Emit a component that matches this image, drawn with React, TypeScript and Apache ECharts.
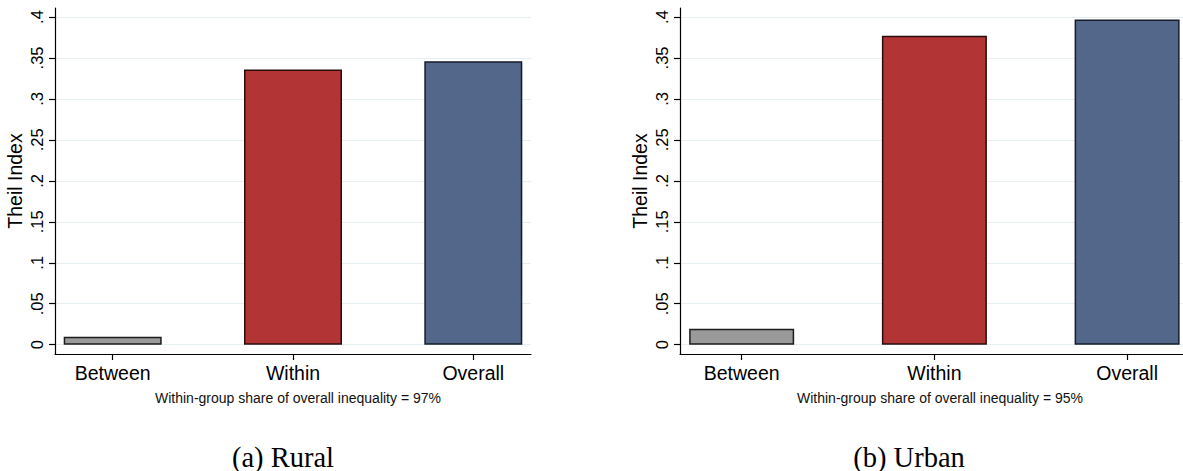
import React, { useEffect, useRef } from "react";
import * as echarts from "echarts";

// Theil decomposition, rural and urban panels
const categories = ["Between", "Within", "Overall"];
const ruralValues = [0.0098, 0.336, 0.346];
const urbanValues = [0.0195, 0.377, 0.397];
const barColors = ["#9a9a9a", "#b23434", "#52678a"];
const barBorders = ["#1c1c1c", "#2a0c0c", "#141c2a"];
const yTickValues = [0, 0.05, 0.1, 0.15, 0.2, 0.25, 0.3, 0.35, 0.4];
const yTickLabels = ["0", ".05", ".1", ".15", ".2", ".25", ".3", ".35", ".4"];
const ruralNote = "Within-group share of overall inequality = 97%";
const urbanNote = "Within-group share of overall inequality = 95%";
const ruralCaption = "(a) Rural";
const urbanCaption = "(b) Urban";
const yTitle = "Theil Index";

const SANS = "'Liberation Sans', Arial, Helvetica, sans-serif";
const SERIF = "'Liberation Serif', 'Times New Roman', serif";
const catPositions = categories.map((_, i) => i);

function makeXAxis(gridIndex: number, max: number) {
  return {
    type: "value",
    gridIndex,
    min: -0.32,
    max,
    axisLine: { show: true, onZero: false, lineStyle: { color: "#000", width: 1.2 } },
    axisTick: { show: true, length: 6, customValues: catPositions, lineStyle: { color: "#000", width: 1.2 } },
    axisLabel: {
      customValues: catPositions,
      formatter: (v: number) => categories[Math.round(v)] ?? "",
      fontFamily: SANS,
      fontSize: 19.5,
      color: "#000",
      margin: 9,
    },
    splitLine: { show: false },
  };
}

function makeYAxis(gridIndex: number) {
  return {
    type: "value",
    gridIndex,
    min: -0.01135,
    max: 0.411,
    name: yTitle,
    nameLocation: "middle",
    nameRotate: 90,
    nameGap: 30,
    nameTextStyle: { fontFamily: SANS, fontSize: 19.5, color: "#000" },
    axisLine: { show: true, onZero: false, lineStyle: { color: "#000", width: 1.2 } },
    axisTick: { show: true, length: 6, customValues: yTickValues, lineStyle: { color: "#000", width: 1.2 } },
    axisLabel: {
      customValues: yTickValues,
      rotate: 90,
      formatter: (v: number) => {
        const idx = yTickValues.findIndex((t) => Math.abs(t - v) < 1e-9);
        return idx >= 0 ? yTickLabels[idx] : "";
      },
      fontFamily: SANS,
      fontSize: 16.5,
      color: "#000",
      margin: 10,
    },
    splitLine: { show: true, lineStyle: { color: "#e6eff1", width: 1 } },
  };
}

function makeSeries(values: number[], axisIndex: number, barWidth: number) {
  return {
    type: "bar",
    xAxisIndex: axisIndex,
    yAxisIndex: axisIndex,
    barWidth,
    data: values.map((v, i) => ({
      value: [catPositions[i], v],
      itemStyle: { color: barColors[i], borderColor: barBorders[i], borderWidth: 1.5 },
    })),
  };
}

export default function App() {
  const ref = useRef<HTMLDivElement>(null);

  useEffect(() => {
    if (!ref.current) return;
    const chart = echarts.init(ref.current, undefined, { renderer: "svg" });
    chart.setOption({
      animation: false,
      backgroundColor: "#fff",
      grid: [
        { left: 55, top: 8, width: 476, height: 346 },
        { left: 680, top: 8, width: 503, height: 346 },
      ],
      xAxis: [makeXAxis(0, 2.32), makeXAxis(1, 2.29)],
      yAxis: [makeYAxis(0), makeYAxis(1)],
      series: [makeSeries(ruralValues, 0, 98), makeSeries(urbanValues, 1, 105)],
      graphic: [
        {
          type: "text",
          x: 298,
          y: 398,
          style: { text: ruralNote, fontFamily: SANS, fontSize: 14, fill: "#111", align: "center", verticalAlign: "middle" },
        },
        {
          type: "text",
          x: 940,
          y: 398,
          style: { text: urbanNote, fontFamily: SANS, fontSize: 14, fill: "#111", align: "center", verticalAlign: "middle" },
        },
        {
          type: "text",
          x: 283,
          y: 457,
          style: { text: ruralCaption, fontFamily: SERIF, fontSize: 28.5, fill: "#000", align: "center", verticalAlign: "middle" },
        },
        {
          type: "text",
          x: 909,
          y: 457,
          style: { text: urbanCaption, fontFamily: SERIF, fontSize: 28.5, fill: "#000", align: "center", verticalAlign: "middle" },
        },
      ],
    });
    return () => chart.dispose();
  }, []);

  return (
    <div
      ref={ref}
      style={{ position: "absolute", left: 0, top: 0, width: 1183, height: 471, background: "#fff" }}
    />
  );
}
